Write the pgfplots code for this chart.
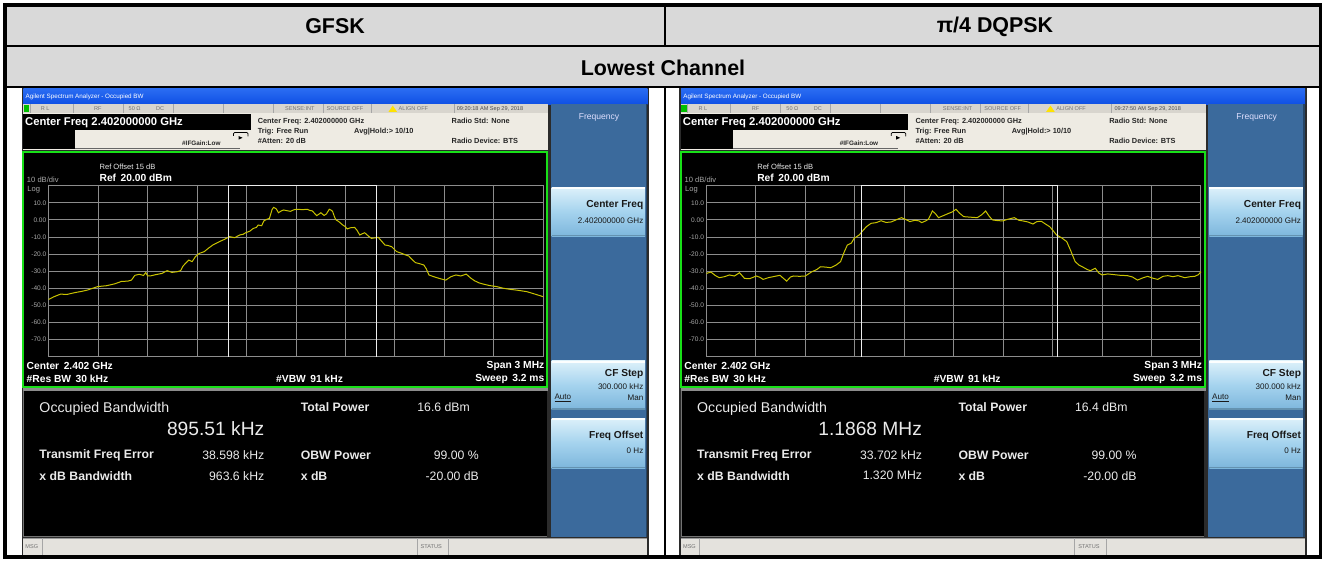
\documentclass[border=0pt]{standalone}
\usepackage{fontspec}
\setmainfont{Liberation Sans}
\usepackage{pgfplots}
\pgfplotsset{compat=1.18}

\definecolor{hdr}{HTML}{D9D9D9}
\definecolor{xpblue}{HTML}{0E4FE4}
\definecolor{xpblue2}{HTML}{2A6CF2}
\definecolor{stbar}{HTML}{D8D5CE}
\definecolor{info}{HTML}{EEEBE3}
\definecolor{grn}{HTML}{18E018}
\definecolor{panel}{HTML}{3B6A9C}
\definecolor{btnA}{HTML}{DDF1FA}
\definecolor{btnB}{HTML}{A5D3EE}
\definecolor{btnC}{HTML}{7DB6DC}
\definecolor{trace}{HTML}{C9C300}
\definecolor{gridc}{HTML}{8C8C8C}
\definecolor{framec}{HTML}{2B2B2B}
\definecolor{lblgray}{HTML}{A8A8A8}
\definecolor{txtw}{HTML}{EAEAEA}

\newcommand\fs[1]{\fontsize{#1}{#1}\selectfont}

\pgfplotstableread{
f db
-1.500 -46.5
-1.470 -45.0
-1.428 -43.4
-1.390 -43.6
-1.340 -42.5
-1.300 -41.8
-1.264 -41.0
-1.203 -39.0
-1.150 -38.5
-1.100 -37.4
-1.059 -36.0
-1.020 -35.8
-0.998 -35.2
-0.977 -32.4
-0.950 -31.8
-0.925 -32.5
-0.911 -30.8
-0.900 -32.8
-0.885 -32.8
-0.850 -32.0
-0.813 -31.3
-0.782 -29.7
-0.752 -30.7
-0.720 -30.3
-0.700 -29.7
-0.685 -27.0
-0.670 -25.4
-0.650 -23.5
-0.630 -24.4
-0.610 -21.5
-0.587 -19.6
-0.557 -18.6
-0.530 -16.5
-0.505 -14.7
-0.464 -12.7
-0.434 -11.4
-0.403 -9.8
-0.372 -10.4
-0.341 -8.8
-0.320 -8.4
-0.305 -7.5
-0.280 -6.6
-0.259 -5.0
-0.240 -4.4
-0.229 -3.0
-0.208 -3.4
-0.195 -0.6
-0.175 0.4
-0.161 0.9
-0.145 6.0
-0.136 7.3
-0.120 6.5
-0.106 4.2
-0.090 5.2
-0.075 5.8
-0.050 5.3
-0.034 5.0
-0.010 6.0
0.007 6.2
0.040 6.0
0.069 6.2
0.085 5.5
0.099 5.3
0.115 3.6
0.126 2.5
0.140 3.4
0.151 4.2
0.162 3.3
0.171 2.6
0.185 3.5
0.202 6.2
0.215 5.6
0.222 5.0
0.235 1.5
0.243 0.0
0.260 -1.0
0.284 -3.0
0.300 -4.0
0.311 -5.3
0.330 -4.6
0.356 -4.4
0.370 -6.0
0.387 -8.8
0.400 -8.2
0.417 -7.5
0.440 -9.5
0.458 -10.8
0.480 -10.5
0.499 -10.2
0.520 -12.5
0.540 -14.7
0.560 -15.0
0.581 -15.7
0.610 -18.5
0.643 -19.6
0.665 -20.5
0.684 -21.1
0.705 -23.2
0.725 -25.0
0.750 -25.6
0.776 -26.4
0.790 -28.5
0.807 -32.2
0.830 -33.0
0.848 -33.6
0.880 -34.5
0.909 -35.2
0.940 -33.2
0.971 -32.2
1.000 -32.8
1.033 -31.7
1.060 -34.0
1.084 -35.6
1.110 -36.8
1.135 -37.5
1.175 -38.4
1.217 -39.0
1.260 -40.0
1.299 -40.6
1.350 -41.2
1.402 -42.0
1.450 -43.4
1.500 -44.9
}\gfsk

\pgfplotstableread{
f db
-1.500 -31.3
-1.473 -30.5
-1.445 -32.6
-1.422 -33.8
-1.390 -33.2
-1.361 -32.2
-1.330 -32.8
-1.299 -30.9
-1.269 -34.2
-1.238 -34.4
-1.197 -32.8
-1.175 -33.6
-1.156 -34.8
-1.125 -33.8
-1.095 -33.2
-1.054 -32.4
-1.030 -34.4
-1.013 -35.8
-0.990 -33.4
-0.972 -32.8
-0.935 -33.0
-0.900 -32.8
-0.860 -30.3
-0.830 -29.0
-0.808 -27.4
-0.775 -27.6
-0.747 -28.0
-0.715 -26.5
-0.686 -24.4
-0.665 -19.0
-0.645 -14.7
-0.620 -13.5
-0.604 -10.8
-0.573 -8.8
-0.553 -6.5
-0.530 -4.0
-0.501 -2.0
-0.470 -1.6
-0.440 -0.5
-0.410 -1.5
-0.379 -1.2
-0.350 0.0
-0.317 1.3
-0.290 0.2
-0.266 -1.0
-0.235 -0.2
-0.210 -0.6
-0.194 -1.6
-0.170 -0.6
-0.153 0.4
-0.129 5.2
-0.110 3.6
-0.092 1.3
-0.060 2.6
-0.031 3.8
-0.010 4.6
0.014 6.2
0.035 4.0
0.061 1.9
0.100 1.6
0.143 1.3
0.170 3.0
0.194 5.2
0.215 2.2
0.235 0.0
0.265 -0.4
0.297 -0.6
0.330 0.4
0.368 1.3
0.395 -0.2
0.420 -0.6
0.450 -1.2
0.481 -2.4
0.505 -1.0
0.532 -0.8
0.560 -2.6
0.583 -4.0
0.605 -6.5
0.624 -8.8
0.655 -10.5
0.686 -12.7
0.710 -18.0
0.737 -24.4
0.760 -26.4
0.788 -27.8
0.810 -29.0
0.829 -29.7
0.859 -28.3
0.880 -31.0
0.900 -32.2
0.935 -31.6
0.972 -32.0
1.010 -32.4
1.054 -32.6
1.085 -33.4
1.115 -35.2
1.150 -33.8
1.177 -33.0
1.205 -34.0
1.238 -34.8
1.270 -33.0
1.299 -32.6
1.330 -33.2
1.361 -32.6
1.402 -33.8
1.435 -33.2
1.463 -33.0
1.485 -32.0
1.500 -30.3
}\dqpsk

% ---------- one analyzer screenshot (drawn in a y-flipped scope) ----------
\newcommand\shot[7]{%
\begin{scope}[shift={(#1,0)}]
 \fill[framec] (21.7,88.3) rectangle (649,557);
 % title bar
 \shade[top color=xpblue2, bottom color=xpblue] (23.3,89) rectangle (647.3,104.5);
 \node[anchor=west, text=white, font=\fs{6.3}, inner sep=0] at (25.5,97) {Agilent Spectrum Analyzer - Occupied BW};
 % status row
 \fill[stbar] (23.3,104.5) rectangle (548,113);
 \foreach \xx in {30,73,123,173,223,273,323,371,454}
   \draw[black!35, line width=0.5] (\xx,104.5) -- (\xx,113);
 \fill[green!75!black] (23.6,105.3) rectangle (29.2,112.2);
 \begin{scope}[every node/.style={anchor=west, inner sep=0, font=\fs{5.6}, text=black!55}]
  \node at (40.7,109) {R L};
  \node at (94,109) {RF};
  \node at (128.5,109) {50 Ω};
  \node at (156,109) {DC};
  \node at (285,109) {SENSE:INT};
  \node at (326.5,109) {SOURCE OFF};
  \node at (398.5,109) {ALIGN OFF};
  \node[text=black!70] at (456.6,109) {#2};
 \end{scope}
 \fill[yellow!85!orange] (388.5,111.8) -- (397,111.8) -- (392.75,105.6) -- cycle;
 % info area
 \fill[info] (23.3,113) rectangle (548,150);
 \fill[black] (23.3,114.5) rectangle (250.7,130);
 \node[anchor=west, text=white, font=\bfseries\fs{11.3}, inner sep=0] at (25,122.3) {Center Freq 2.402000000 GHz};
 \fill[black] (23.3,130) rectangle (75,149);
 \draw[black!60, line width=0.6] (75,148.5) -- (240,148.5);
 \draw[black, line width=0.7, rounded corners=1.2] (233.5,136) -- (233.5,132.5) -- (248,132.5) -- (248,136.5);
 \fill[black] (238.5,136) -- (242.5,137.8) -- (238.5,139.6) -- cycle;
 \begin{scope}[every node/.style={anchor=west, inner sep=0, font=\bfseries\fs{7.4}, text=black!85}]
  \node at (257.6,121.3) {Center Freq: 2.402000000 GHz};
  \node at (257.6,131.3) {Trig: Free Run};
  \node at (257.6,141.3) {\#Atten: 20 dB};
  \node at (354,131.3) {Avg|Hold:> 10/10};
  \node at (451.5,121.3) {Radio Std: None};
  \node at (451.5,141.3) {Radio Device: BTS};
  \node[font=\bfseries\fs{6.4}] at (182,143.5) {\#IFGain:Low};
 \end{scope}
 % graph area
 \fill[black] (23,151.7) rectangle (547,387);
 \draw[grn, line width=2] (23,151.7) rectangle (547,387);
 \node[anchor=west, inner sep=0, text=txtw, font=\fs{7.6}] at (99.4,166.7) {Ref Offset 15 dB};
 \node[anchor=west, inner sep=0, text=white, font=\bfseries\fs{10.3}] at (99.4,178.3) {Ref\, 20.00 dBm};
 \node[anchor=west, inner sep=0, text=lblgray, font=\fs{7.6}] at (26.8,180) {10 dB/div};
 \node[anchor=west, inner sep=0, text=lblgray, font=\fs{7.6}] at (27.2,189.3) {Log};
 \node[anchor=west, inner sep=0, text=white, font=\bfseries\fs{10.3}] at (26.5,366) {Center\, 2.402 GHz};
 \node[anchor=west, inner sep=0, text=white, font=\bfseries\fs{10.3}] at (26.5,379.3) {\#Res BW\, 30 kHz};
 \node[anchor=west, inner sep=0, text=white, font=\bfseries\fs{10.3}] at (276,379.3) {\#VBW\, 91 kHz};
 \node[anchor=east, inner sep=0, text=white, font=\bfseries\fs{10.3}] at (544.5,366) {Span 3 MHz};
 \node[anchor=east, inner sep=0, text=white, font=\bfseries\fs{10.3}] at (544.5,379.3) {Sweep\, 3.2 ms};
 % result panel
 \fill[black!45] (23.3,388.3) rectangle (548,391);
 \fill[black] (23.3,391) rectangle (546.5,537);
 \draw[black!55, line width=1] (23.8,391) -- (23.8,536.5) -- (546.5,536.5);
 \node[anchor=west, inner sep=0, text=txtw, font=\fs{14.2}] at (39.3,408.6) {Occupied Bandwidth};
 \node[anchor=east, inner sep=0, text=txtw, font=\fs{19.3}] at (264.5,428.6) {#3};
 \begin{scope}[every node/.style={inner sep=0, text=txtw, font=\fs{12.3}}]
  \node[anchor=west, font=\bfseries\fs{12.3}] at (300.6,406.7) {Total Power};
  \node[anchor=west] at (417.2,406.7) {#4};
  \node[anchor=west, font=\bfseries\fs{12.3}] at (39.3,455) {Transmit Freq Error};
  \node[anchor=east] at (264.5,455) {#5};
  \node[anchor=west, font=\bfseries\fs{12.3}] at (300.6,455) {OBW Power};
  \node[anchor=east] at (479,455) {99.00 \%};
  \node[anchor=west, font=\bfseries\fs{12.3}] at (39.3,475.7) {x dB Bandwidth};
  \node[anchor=east] at (264.5,475.7) {#6};
  \node[anchor=west, font=\bfseries\fs{12.3}] at (300.6,475.7) {x dB};
  \node[anchor=east] at (479,475.7) {-20.00 dB};
 \end{scope}
 % bottom status bar
 \fill[stbar!70!white] (23.3,538.3) rectangle (647.3,554.8);
 \draw[black!40, line width=0.6] (23.3,538.3) -- (647.3,538.3);
 \foreach \xx in {42,417,448.6}
   \draw[black!35, line width=0.6] (\xx,538.3) -- (\xx,554.8);
 \node[anchor=west, inner sep=0, text=black!55, font=\fs{5.6}] at (25.2,546.5) {MSG};
 \node[anchor=west, inner sep=0, text=black!55, font=\fs{5.6}] at (420.5,546.5) {STATUS};
 % softkey panel
 \fill[panel] (550.5,104.5) rectangle (645.5,537);
 \fill[panel!65!black] (645.5,104.5) rectangle (647.3,537);
 \node[text=white!88!blue, inner sep=0, font=\fs{8.6}] at (599,117.3) {Frequency};
 \foreach \ya/\yb in {187.3/236.3, 360.7/409.7, 418/468}{
   \shade[top color=btnA, bottom color=btnC, middle color=btnB] (551.7,\ya) rectangle (645,\yb);
   \fill[white!90!btnA] (551.7,\ya) rectangle (645,\ya+2);
   \fill[btnC!80!black] (551.7,\yb-1.5) rectangle (645,\yb);
 }
 \begin{scope}[every node/.style={anchor=east, inner sep=0, text=black!90}]
  \node[font=\bfseries\fs{10.2}] at (643.5,204.7) {Center Freq};
  \node[font=\fs{8.1}] at (643.5,220.3) {2.402000000 GHz};
  \node[font=\bfseries\fs{10.2}] at (643.5,373.7) {CF Step};
  \node[font=\fs{8.1}] at (643.5,386.3) {300.000 kHz};
  \node[font=\fs{8.1}] at (643.5,398) {Man};
  \node[font=\fs{8.1}, anchor=west] at (554.3,398) {\underline{Auto}};
  \node[font=\bfseries\fs{10.2}] at (643.5,435.7) {Freq Offset};
  \node[font=\fs{8.1}] at (643.5,450.7) {0 Hz};
 \end{scope}
\end{scope}}

\pgfplotsset{sa/.style={
  scale only axis, width=494.5bp, height=171bp,
  xmin=-1.5, xmax=1.5, ymin=-80, ymax=20,
  xtick={-1.2,-0.9,-0.6,-0.3,0,0.3,0.6,0.9,1.2}, xticklabels={},
  ytick={-70,-60,-50,-40,-30,-20,-10,0,10},
  yticklabels={-70.0,-60.0,-50.0,-40.0,-30.0,-20.0,-10.0,0.00,10.0},
  yticklabel style={font=\fs{6.6}, text=lblgray, inner sep=0pt, xshift=-2.2bp},
  grid=major, major grid style={draw=gridc, line width=0.9bp},
  axis line style={draw=gridc, line width=0.9bp},
  major tick length=0pt, tick style={draw=none},
  axis background/.style={fill=black},
  clip=false,
}}

\begin{document}
\begin{tikzpicture}[x=1bp, y=1bp]
\path[use as bounding box] (0,0) rectangle (1326,-561);
\fill[white] (0,0) rectangle (1326,-561);
\begin{scope}[yscale=-1]
 % table
 \fill[hdr] (5,5) rectangle (1320.5,87);
 \draw[black, line width=2.6] (5,46) -- (1320.5,46);
 \draw[black, line width=2.6] (5,87) -- (1320.5,87);
 \draw[black, line width=2.2] (665,5) -- (665,46);
 \draw[black, line width=2.2] (665,87) -- (665,557);
 \node[font=\bfseries\fs{21.5}, inner sep=0] at (335,26.5) {GFSK};
 \node[font=\bfseries\fs{21.5}, inner sep=0] at (995,26.5) {π/4 DQPSK};
 \node[font=\bfseries\fs{21.5}, inner sep=0] at (663,67.5) {Lowest Channel};
 \shot{0}{09:20:18 AM Sep 29, 2018}{895.51 kHz}{16.6 dBm}{38.598 kHz}{963.6 kHz}{}
 \shot{657.7}{09:27:50 AM Sep 29, 2018}{1.1868 MHz}{16.4 dBm}{33.702 kHz}{1.320 MHz}{}
 \draw[black, line width=3.6] (5,5) rectangle (1320.5,557);
\end{scope}

% GFSK spectrum
\begin{axis}[sa, at={(48.7bp,-356.7bp)}, anchor=south west]
 \addplot[trace, line width=1bp] table[x=f, y=db] {\gfsk};
 \addplot[white!85!gray, line width=0.9bp] coordinates {(-0.409,-80) (-0.409,20.4) (0.486,20.4) (0.486,-80)};
\end{axis}
% pi/4 DQPSK spectrum
\begin{axis}[sa, at={(706.4bp,-356.7bp)}, anchor=south west]
 \addplot[trace, line width=1bp] table[x=f, y=db] {\dqpsk};
 \addplot[white!85!gray, line width=0.9bp] coordinates {(-0.560,-80) (-0.560,20.4) (0.627,20.4) (0.627,-80)};
\end{axis}
\end{tikzpicture}
\end{document}
